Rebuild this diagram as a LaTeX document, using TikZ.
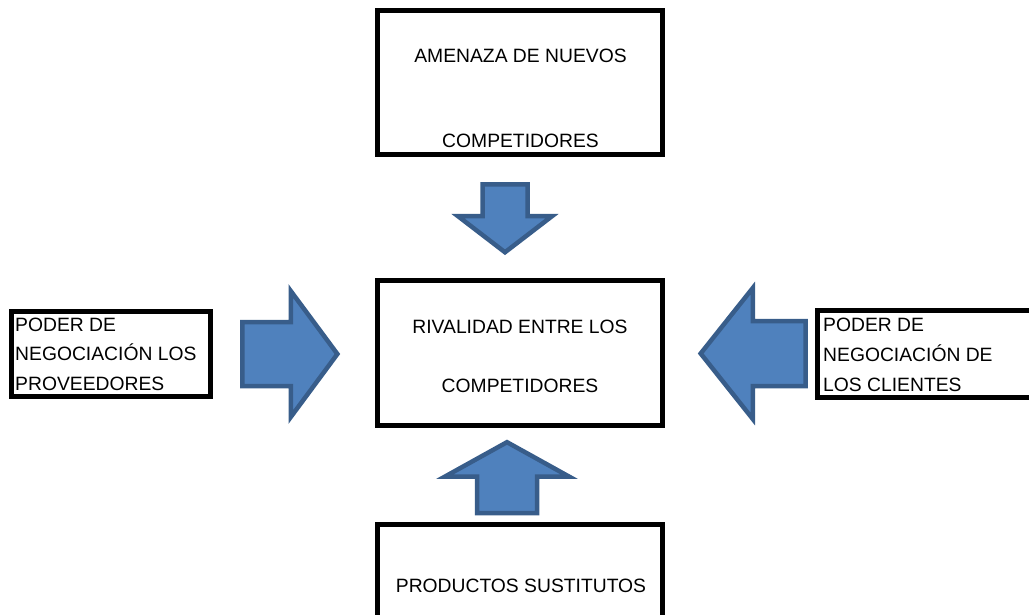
\documentclass[tikz,border=0pt]{standalone}
\usepackage{fontspec}
\setmainfont{Liberation Sans}
\usetikzlibrary{shapes.arrows}
\definecolor{arrfill}{RGB}{79,129,189}
\definecolor{arrdraw}{RGB}{56,93,138}
\tikzset{box/.style={rectangle,draw,line width=4.7pt,inner sep=0pt},
  lbl/.style={inner sep=0pt,anchor=base,font=\fontsize{19.3}{29.5}\selectfont},
  blk/.style={single arrow,draw=arrdraw,fill=arrfill,line width=4.5pt,
    inner xsep=0pt,single arrow head indent=0pt,minimum width=0pt,anchor=tip}}
\begin{document}
\begin{tikzpicture}[x=1pt,y=-1pt]
      \clip (0,0) rectangle (1029,614);
      % cajas
      \node[box,minimum width=285pt,minimum height=144pt] (n1) at (520,82.5) {};
      \node[box,minimum width=285pt,minimum height=145pt] (c1) at (520,353) {};
      \node[box,minimum width=285pt,minimum height=175.5pt] (s1) at (520,612.25) {};
      \node[box,minimum width=199pt,minimum height=85pt] (w1) at (111,354) {};
      \node[box,minimum width=282.5pt,minimum height=87pt] (e1) at (958.75,354) {};

      \node[lbl] (n1a) at (520.5,62) {AMENAZA DE NUEVOS}; \node[lbl] (n1b)
      at (520.5,147) {COMPETIDORES}; \node[lbl] (c1a) at (520,333)
      {RIVALIDAD ENTRE LOS}; \node[lbl] (c1b) at (520,392) {COMPETIDORES};
      \node[lbl] (s1a) at (521,592) {PRODUCTOS SUSTITUTOS};
      \node[lbl,anchor=north west,align=left] (w1a) at (15,317.7)
      {PODER DE\\NEGOCIACIÓN LOS\\PROVEEDORES};
      \node[lbl,anchor=north west,align=left] (e1a) at (823,317.8)
      {PODER DE\\[0.5pt]NEGOCIACIÓN DE\\[0.5pt]LOS CLIENTES};

      % flechas
      \node[blk,inner ysep=20.25pt,single arrow head extend=24.5pt,
      single arrow tip angle=105,minimum height=68pt,rotate=270] (an) at (505,255.1) {};
      \node[blk,inner ysep=27.75pt,single arrow head extend=32pt,
      single arrow tip angle=122,minimum height=71pt,rotate=90] (as) at (507,439.6) {};
      \node[blk,inner ysep=29.75pt,single arrow head extend=31pt,
      single arrow tip angle=107,minimum height=95pt] (aw) at (340.2,354) {};
      \node[blk,inner ysep=30.25pt,single arrow head extend=33pt,
      single arrow tip angle=103,minimum height=105pt,rotate=180] (ae) at (697.8,353.5) {};
    \end{tikzpicture}
\end{document}
